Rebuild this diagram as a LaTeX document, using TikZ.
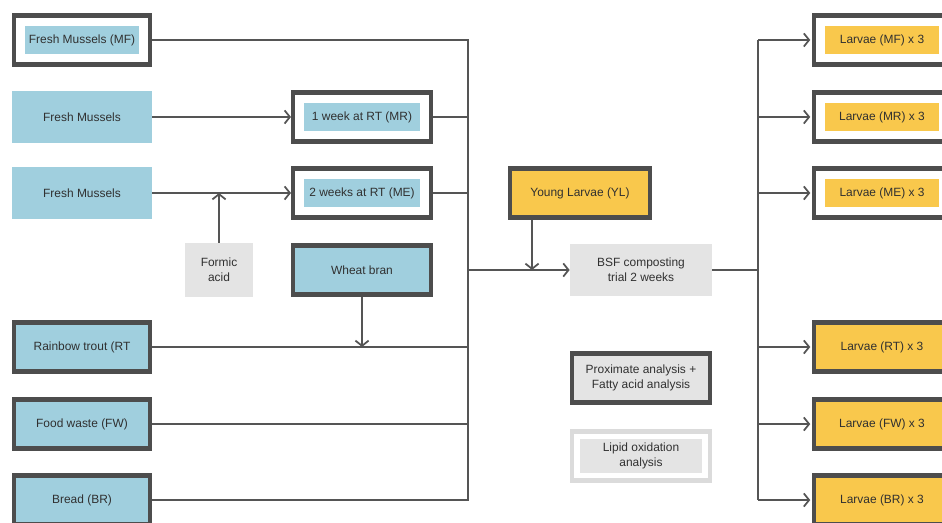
\documentclass[tikz,border=0pt]{standalone}
\usepackage{fontspec}
\setmainfont{Liberation Sans}
\usetikzlibrary{calc,positioning,arrows.meta}

\definecolor{boxblue}{HTML}{A0CFDE}
\definecolor{boxyellow}{HTML}{F9C84C}
\definecolor{boxgrey}{HTML}{E4E4E4}
\definecolor{framegrey}{HTML}{4D4D4D}
\definecolor{linegrey}{HTML}{555555}
\definecolor{textgrey}{HTML}{303030}

\tikzset{
	base/.style={minimum width=2.72cm, minimum height=0.98cm, align=center, inner sep=1pt, text=textgrey, font=\fontsize{6.8}{8.4}\selectfont},
	plainbox/.style={base, fill=#1, minimum width=2.8cm, minimum height=1.06cm},
	framed/.style={base, fill=#1, draw=framegrey, line width=2.3pt},
	ringed/.style 2 args={base, fill=white, draw=#1, line width=2.3pt,
		path picture={\fill[#2] ($(path picture bounding box.south west)+(6.2pt,6.2pt)$) rectangle ($(path picture bounding box.north east)-(6.2pt,6.2pt)$);}},
	lipidbox/.style={base, fill=white, draw=boxgrey!96!black, line width=2.8pt,
		path picture={\fill[boxgrey] ($(path picture bounding box.south west)+(4.4pt,4.4pt)$) rectangle ($(path picture bounding box.north east)-(4.4pt,4.4pt)$);}},
	conn/.style={draw=linegrey, line width=1pt},
}

\begin{document}
\begin{tikzpicture}[x=0.02cm, y=-0.02cm, >={Straight Barb[length=3pt,width=7.5pt]}]
		%%%%% START %%%%%
		\useasboundingbox (0, 0) rectangle (942, 523);
		
		% feeds on the left
		\node[ringed={framegrey}{boxblue}] (mf) at (82, 40) {Fresh Mussels (MF)};
		\node[plainbox=boxblue] (fmr) at (82, 117) {Fresh Mussels};
		\node[plainbox=boxblue] (fme) at (82, 193) {Fresh Mussels};
		\node[framed=boxblue] (rt) at (82, 347) {Rainbow trout (RT};
		\node[framed=boxblue] (fw) at (82, 424) {Food waste (FW)};
		\node[framed=boxblue] (br) at (82, 500) {Bread (BR)};
		
		% storage and additives
		\node[ringed={framegrey}{boxblue}, minimum width=2.76cm] (mr) at (362, 117) {1 week at RT (MR)};
		\node[ringed={framegrey}{boxblue}, minimum width=2.76cm] (me) at (362, 193) {2 weeks at RT (ME)};
		\node[framed=boxblue, minimum width=2.76cm] (wb) at (362, 270) {Wheat bran};
		\node[plainbox=boxgrey, minimum width=1.36cm, minimum height=1.08cm] (fa) at (219, 270) {Formic\\acid};
		
		% trial
		\node[framed=boxyellow, minimum width=2.8cm] (yl) at (580, 193) {Young Larvae (YL)};
		\node[plainbox=boxgrey, minimum width=2.84cm] (bsf) at (641, 270) {BSF composting\\trial 2 weeks};
		\node[framed=boxgrey, minimum width=2.76cm] (prox) at (641, 378) {Proximate analysis +\\Fatty acid analysis};
		\node[lipidbox, minimum width=2.76cm] (lipid) at (641, 456) {Lipid oxidation\\analysis};
		
		% larvae on the right
		\node[ringed={framegrey}{boxyellow}] (lmf) at (882, 40) {Larvae (MF) x 3};
		\node[ringed={framegrey}{boxyellow}] (lmr) at (882, 117) {Larvae (MR) x 3};
		\node[ringed={framegrey}{boxyellow}] (lme) at (882, 193) {Larvae (ME) x 3};
		\node[framed=boxyellow] (lrt) at (882, 347) {Larvae (RT) x 3};
		\node[framed=boxyellow] (lfw) at (882, 424) {Larvae (FW) x 3};
		\node[framed=boxyellow] (lbr) at (882, 500) {Larvae (BR) x 3};
		
		% left bus
		\coordinate (lbus) at (468, 270);
		\draw[conn] (mf.east) -- (mf.east -| lbus) -- (br.east -| lbus) -- (br.east);
		\foreach \n in {mr, me, rt, fw}
			\draw[conn] (\n.east) -- (\n.east -| lbus);
		\draw[conn, ->] (fmr) -- (mr);
		\draw[conn, ->] (fme) -- (me);
		\draw[conn, ->] (fa) -- (fa |- fme.east);
		\draw[conn, ->] (wb) -- (wb |- rt.east);
		\draw[conn, ->] (lbus) -- (bsf);
		\coordinate (ylin) at (532, 270);
		\draw[conn, ->] (yl.south -| ylin) -- (ylin);
		
		% right bus
		\coordinate (rbus) at (758, 270);
		\draw[conn] (bsf) -- (rbus);
		\draw[conn] (rbus |- lmf.west) -- (rbus |- lbr.west);
		\foreach \n in {lmf, lmr, lme, lrt, lfw, lbr}
			\draw[conn, ->, shorten >=1pt] (rbus |- \n.west) -- (\n.west);
		
		%%%%% END %%%%%
\end{tikzpicture}
\end{document}
